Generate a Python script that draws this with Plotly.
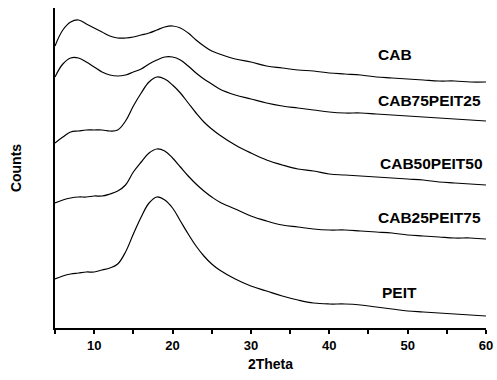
import plotly.graph_objects as go

two_theta = [5, 6, 7, 8, 9, 10, 11, 12, 13, 14, 15, 16, 17, 18, 19, 20, 21, 22, 23, 24,
             25, 26, 28, 30, 32, 34, 36, 38, 40, 42, 44, 46, 48, 50, 52, 54, 56, 58, 60]

cab = [282, 298, 306, 308, 304, 300, 296, 292, 290, 290, 291, 293, 295, 298, 301, 302, 300, 295, 288, 282,
       277, 274, 269, 266, 262, 260, 258, 257, 255, 254, 253, 251, 250, 249, 248, 247, 247, 246, 246]
cab75peit25 = [251, 264, 270, 270, 266, 261, 256, 253, 252, 253, 256, 259, 264, 268, 271, 271, 268, 262, 255, 249,
               244, 239, 233, 229, 225, 222, 220, 218, 216, 215, 215, 214, 213, 212, 211, 210, 209, 208, 207]
cab50peit50 = [185, 191, 196, 197, 198, 198, 198, 197, 198, 207, 222, 235, 246, 251, 249, 243, 235, 225, 215, 206,
               199, 193, 183, 175, 168, 163, 159, 157, 154, 153, 152, 151, 150, 149, 148, 146, 145, 144, 143]
cab25peit75 = [125, 128, 130, 131, 131, 132, 132, 134, 137, 143, 156, 166, 175, 179, 177, 170, 161, 152, 144, 137,
               131, 126, 119, 112, 107, 103, 101, 99, 98, 98, 97, 96, 95, 93, 92, 91, 90, 90, 89]
peit = [49, 52, 54, 55, 56, 56, 58, 60, 64, 76, 94, 111, 125, 131, 128, 120, 107, 94, 82, 72,
        64, 58, 49, 42, 37, 32, 28, 25, 24, 24, 23, 21, 19, 17, 16, 15, 14, 13, 12]

series_names = ["CAB", "CAB75PEIT25", "CAB50PEIT50", "CAB25PEIT75", "PEIT"]
series_values = [cab, cab75peit25, cab50peit50, cab25peit75, peit]
label_x = [48.4, 52.8, 53.0, 52.8, 49.0]
label_y = [274, 228, 165, 111, 36]

x_tickvals = [10, 20, 30, 40, 50, 60]

FONT = "Liberation Sans, Arial, sans-serif"

fig = go.Figure()
for name, vals in zip(series_names, series_values):
    fig.add_trace(go.Scatter(
        x=two_theta, y=vals, mode="lines", name=name,
        line=dict(color="black", width=1.2, shape="spline", smoothing=1.1),
        showlegend=False, hoverinfo="skip"))

for name, lx, ly in zip(series_names, label_x, label_y):
    fig.add_annotation(x=lx, y=ly, text=name, showarrow=False,
                       font=dict(family=FONT, size=15.5, color="black", weight="bold"),
                       xanchor="center", yanchor="middle")

fig.update_layout(
    width=497, height=380,
    margin=dict(l=55, r=11, t=8, b=52),
    paper_bgcolor="white", plot_bgcolor="white",
    font=dict(family=FONT, color="black"),
)
fig.update_xaxes(
    range=[5, 60], tickvals=x_tickvals, ticks="outside", ticklen=4, tickwidth=1.5,
    tickcolor="black", showline=True, linecolor="black", linewidth=2,
    showgrid=False, zeroline=False, automargin=False,
    tickfont=dict(family=FONT, size=13, color="black", weight="bold"),
    minor=dict(dtick=5, tick0=0, ticks="outside", ticklen=4, tickwidth=1.5, tickcolor="black", showgrid=False),
    title=dict(text="2Theta", font=dict(family=FONT, size=14, color="black", weight="bold"), standoff=8),
)
fig.update_yaxes(
    range=[0, 320], showticklabels=False, ticks="", showline=True, linecolor="black",
    linewidth=2, showgrid=False, zeroline=False, automargin=False,
    title=dict(text="Counts", font=dict(family=FONT, size=14, color="black", weight="bold"), standoff=28),
)

fig.write_html("out.html", config={"displayModeBar": False},
               post_script="document.body.style.margin='0';document.body.style.padding='0';")
